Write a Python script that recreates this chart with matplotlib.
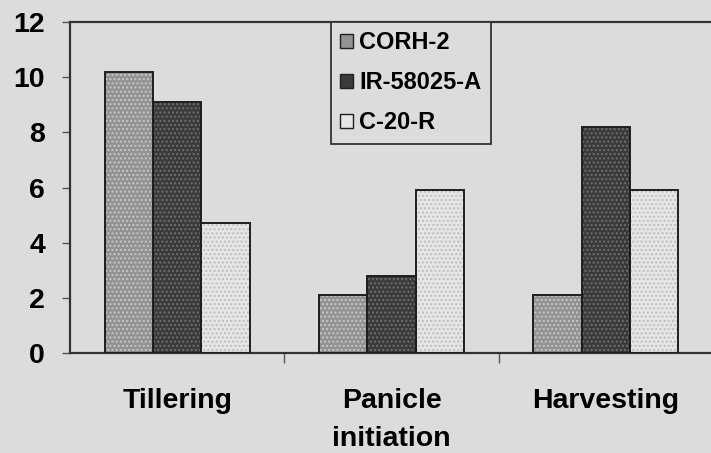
import matplotlib
matplotlib.use("Agg")
import matplotlib.pyplot as plt
from matplotlib.patches import Patch
import numpy as np

plt.rcParams["font.family"] = ["Liberation Sans", "DejaVu Sans"]
plt.rcParams["font.weight"] = "bold"

stages = ["Tillering", "Panicle\ninitiation", "Harvesting"]
varieties = ["CORH-2", "IR-58025-A", "C-20-R"]
corh2 = [10.2, 2.1, 2.1]
ir58025a = [9.1, 2.8, 8.2]
c20r = [4.7, 5.9, 5.9]
yticks = [0, 2, 4, 6, 8, 10, 12]

bg = "#dcdcdc"
fills = ["#929292", "#3a3a3a", "#e6e6e6"]
dots = ["#c8c8c8", "#707070", "#bdbdbd"]

fig = plt.figure(figsize=(7.11, 4.53), dpi=100, facecolor=bg)
ax = fig.add_axes([70 / 711, 1 - 353 / 453, 643 / 711, 331 / 453])
ax.set_facecolor(bg)

x = np.arange(len(stages))
w = 0.225
series = [corh2, ir58025a, c20r]
for i, vals in enumerate(series):
    pos = x + (i - 1) * w
    plt.rcParams["hatch.color"] = dots[i]
    ax.bar(pos, vals, w, color=fills[i], hatch="....", edgecolor=dots[i],
           linewidth=0, zorder=2)
    ax.bar(pos, vals, w, fill=False, edgecolor="#1e1e1e", linewidth=1.4,
           zorder=3, label=varieties[i])

ax.set_xlim(-0.5, 2.5)
ax.set_ylim(0, 12)
ax.set_yticks(yticks)
ax.set_yticklabels([str(v) for v in yticks], fontsize=20.5, fontweight="bold")
ax.tick_params(axis="y", length=6, width=1, color="#555555", pad=12)

ax.set_xticks(x)
ax.set_xticklabels(stages, fontsize=20.5, fontweight="bold", linespacing=1.6)
ax.tick_params(axis="x", length=0, pad=25)
ax.set_xticks([0.5, 1.5], minor=True)
ax.tick_params(axis="x", which="minor", length=7, width=1, color="#555555")

for s in ["left", "top", "bottom"]:
    ax.spines[s].set_color("#333333")
    ax.spines[s].set_linewidth(1.6)
ax.spines["right"].set_visible(False)

# legend handles: small filled squares
handles = [Patch(facecolor=fills[i], edgecolor="#1e1e1e", linewidth=1.0)
           for i in range(3)]
leg = fig.legend(handles, varieties, loc="upper left",
                 bbox_to_anchor=(331 / 711, 1 - 22 / 453),
                 prop={"size": 17, "weight": "bold"},
                 handlelength=0.55, handleheight=0.55, handletextpad=0.25,
                 labelspacing=0.72, borderpad=0.4, borderaxespad=0,
                 fancybox=False, framealpha=1, facecolor=bg,
                 edgecolor="#333333")
leg.get_frame().set_linewidth(1.3)

fig.savefig("out.png", dpi=100, facecolor=bg)
